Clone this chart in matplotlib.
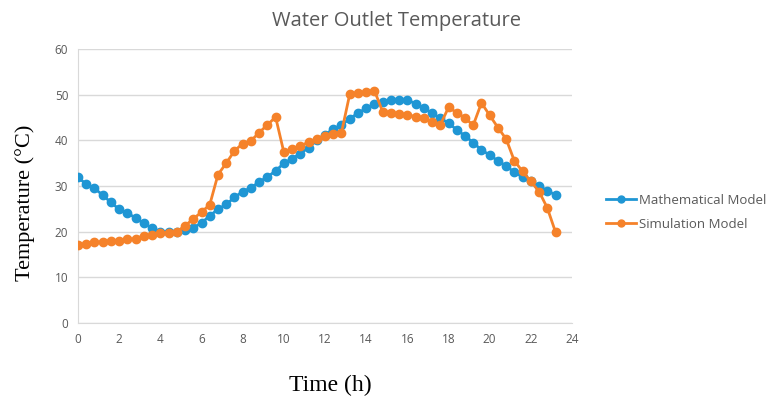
import numpy as np
import matplotlib.pyplot as plt

# hours, one point every 0.4 h
hours = [round(0.4 * i, 1) for i in range(59)]

mathematical = [31.9, 30.4, 29.5, 28.0, 26.4, 24.9, 24.1, 23.0, 21.8, 20.8,
                20.0, 19.9, 19.9, 20.3, 20.9, 21.9, 23.5, 24.9, 26.0, 27.5,
                28.8, 29.6, 30.9, 32.0, 33.3, 35.0, 36.0, 37.1, 38.4, 40.0,
                41.2, 42.5, 43.4, 44.7, 46.0, 47.0, 48.0, 48.5, 48.9, 48.9,
                48.9, 48.0, 47.0, 46.0, 44.8, 43.8, 42.3, 41.0, 39.5, 37.9,
                36.8, 35.5, 34.4, 33.0, 32.0, 31.0, 30.1, 28.9, 28.1]

simulation = [17.1, 17.4, 17.7, 17.8, 18.0, 18.0, 18.3, 18.5, 19.1, 19.3,
              19.7, 19.8, 20.0, 21.3, 22.8, 24.3, 25.9, 32.5, 35.0, 37.7,
              39.3, 39.9, 41.7, 43.4, 45.1, 37.4, 38.2, 38.8, 39.6, 40.4,
              41.0, 41.4, 41.7, 50.1, 50.4, 50.6, 50.9, 46.3, 46.1, 45.8,
              45.6, 45.2, 44.9, 44.1, 43.4, 47.2, 46.1, 44.9, 43.3, 48.2,
              45.5, 42.8, 40.3, 35.5, 33.2, 31.0, 28.8, 25.2, 19.9]

xticks = list(range(0, 25, 2))
yticks = list(range(0, 61, 10))

blue = "#1f96d4"
orange = "#f5822a"
gray = "#595959"
tickfont = "Open Sans"
serif = "Liberation Serif"

fig = plt.figure(figsize=(7.71, 3.98), dpi=100)
ax = fig.add_axes([0.1012, 0.1884, 0.6407, 0.6884])

ax.plot(hours, mathematical, color=blue, linewidth=2, marker="o",
        markersize=6, label="Mathematical Model", zorder=3)
ax.plot(hours, simulation, color=orange, linewidth=2, marker="o",
        markersize=6, label="Simulation Model", zorder=4)

ax.set_xlim(0, 24)
ax.set_ylim(0, 60)
ax.set_xticks(xticks)
ax.set_yticks(yticks)
ax.yaxis.grid(True, color="#d9d9d9", linewidth=1)
ax.set_axisbelow(True)
for s in ["top", "right"]:
    ax.spines[s].set_visible(False)
ax.spines["left"].set_color("#d9d9d9")
ax.spines["bottom"].set_color("#d9d9d9")
ax.tick_params(length=0, pad=7, colors=gray)
for lab in ax.get_xticklabels() + ax.get_yticklabels():
    lab.set_fontfamily(tickfont)
    lab.set_fontsize(8.5)

fig.text(0.514, 0.948, "Water Outlet Temperature", ha="center", va="center",
         fontsize=14.5, color=gray, family=tickfont)
fig.text(0.032, 0.49, "Temperature (\u00b0C)", ha="center", va="center",
         rotation=90, fontsize=16, family=serif, color="black")
fig.text(0.428, 0.032, "Time (h)", ha="center", va="center",
         fontsize=17, family=serif, color="black")

leg = ax.legend(loc="center left", bbox_to_anchor=(1.045, 0.404), frameon=False,
                prop={"family": tickfont, "size": 9.5}, handlelength=2.3,
                handletextpad=0.2, labelspacing=0.8)
for t in leg.get_texts():
    t.set_color(gray)
for h in leg.legend_handles:
    h.set_markersize(5)

fig.savefig("out.png", dpi=100)
